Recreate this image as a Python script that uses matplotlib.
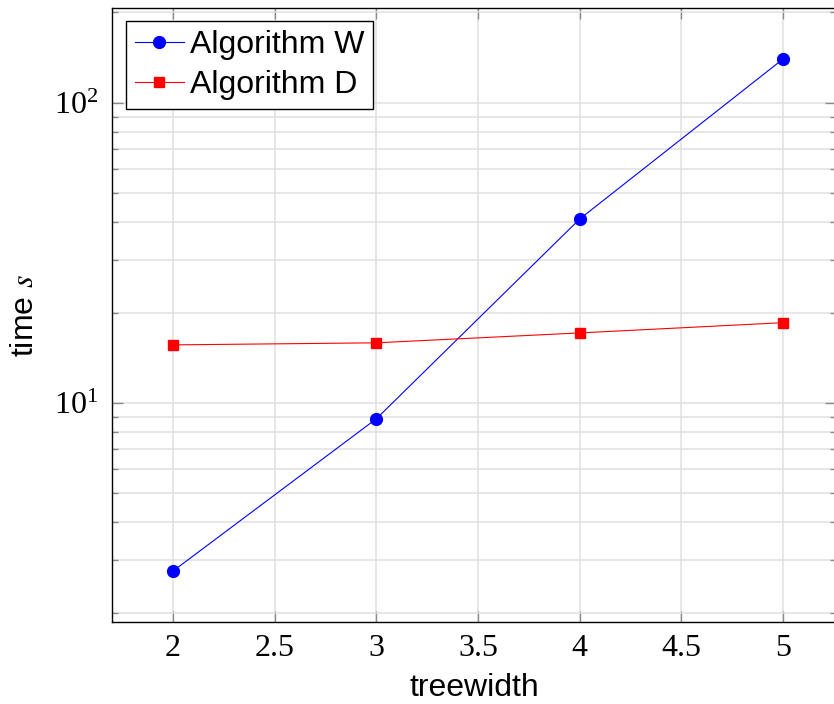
import numpy as np
import matplotlib
matplotlib.use('Agg')
import matplotlib.pyplot as plt
from matplotlib.ticker import LogLocator, NullFormatter

# Data
treewidth = [2, 3, 4, 5]
time_w = [2.75, 8.85, 41.0, 140.0]
time_d = [15.6, 15.85, 17.1, 18.5]

plt.rcParams['font.family'] = ['Liberation Serif', 'DejaVu Serif']
plt.rcParams['mathtext.fontset'] = 'stix'

sans = ['Liberation Sans', 'DejaVu Sans']

fig = plt.figure(figsize=(8.34, 7.04), dpi=100)
ax = fig.add_axes([112 / 834, 82 / 704, 724 / 834, 614 / 704])

ax.plot(treewidth, time_w, color='blue', lw=0.8, marker='o', ms=8.5,
        label='Algorithm W', zorder=3)
ax.plot(treewidth, time_d, color='red', lw=0.8, marker='s', ms=7.8,
        label='Algorithm D', zorder=3)

ax.set_yscale('log')
ax.set_xlim(1.7, 5.26)
ax.set_ylim(1.86, 207)
ax.set_xticks([2, 2.5, 3, 3.5, 4, 4.5, 5])
ax.set_xticklabels(['2', '2.5', '3', '3.5', '4', '4.5', '5'])
ax.yaxis.set_major_locator(LogLocator(base=10))
ax.yaxis.set_minor_locator(LogLocator(base=10, subs=np.arange(2, 10)))
ax.yaxis.set_minor_formatter(NullFormatter())

ax.grid(True, which='major', color='#e0e0e0', lw=1.1)
ax.grid(True, which='minor', axis='y', color='#e0e0e0', lw=1.1)
ax.set_axisbelow(True)

ax.tick_params(which='both', direction='in', top=True, right=True,
               color='#8a8a8a', labelsize=23)
ax.tick_params(which='major', length=8, width=1.0)
ax.tick_params(which='minor', length=4.5, width=1.0)
ax.tick_params(axis='x', pad=9)
ax.tick_params(axis='y', pad=10)

for sp in ax.spines.values():
    sp.set_linewidth(1.0)

ax.set_xlabel('treewidth', family=sans, fontsize=23, labelpad=7)
ax.set_ylabel('time $s$', family=sans, fontsize=23, labelpad=10)

leg = ax.legend(loc='upper left', bbox_to_anchor=(0.019, 0.979),
                prop={'family': sans, 'size': 23}, fancybox=False,
                edgecolor='black', framealpha=1, borderpad=0.28,
                handlelength=1.55, handletextpad=0.18, labelspacing=0.32,
                borderaxespad=0)
leg.get_frame().set_linewidth(1.0)

fig.savefig('out.png', dpi=100)
